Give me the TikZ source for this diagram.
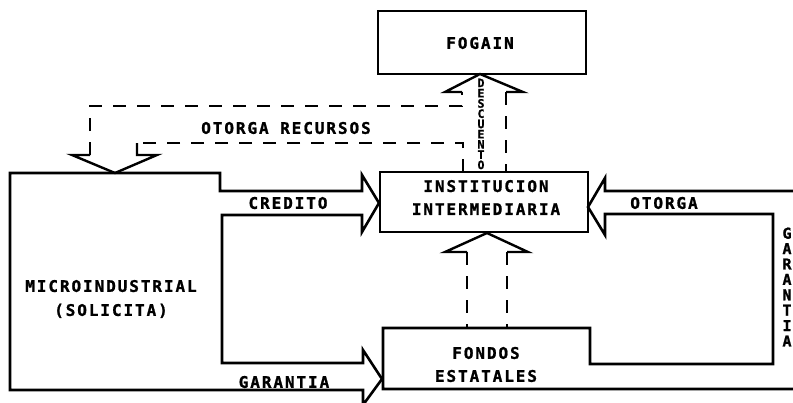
\documentclass[tikz,border=0pt]{standalone}
\usepackage{fontspec}
\newfontfamily\tw[LetterSpace=12,FakeBold=1.2]{DejaVu Sans Mono}
\newfontfamily\tv[FakeBold=1.2]{DejaVu Sans Mono}
\begin{document}
\begin{tikzpicture}[x=1pt,y=-1pt,
  outline/.style={draw=black,line width=2.6pt,line join=miter},
  dashline/.style={draw=black,line width=2.4pt,dash pattern=on 13pt off 11pt},
  headline/.style={draw=black,line width=2.4pt,line join=miter},
  boxst/.style={draw=black,line width=2.6pt,inner sep=0pt},
  lbl/.style={font={\tw\bfseries\fontsize{16}{16}\selectfont},inner sep=0pt},
  lbltwo/.style={font={\tw\bfseries\fontsize{16}{23}\selectfont},inner sep=0pt,align=center},
  vlbl/.style={font={\tv\bfseries\fontsize{15}{15.4}\selectfont},inner sep=0pt,align=center},
  dlbl/.style={font={\tv\bfseries\fontsize{11.5}{10.25}\selectfont},inner sep=0pt,align=center}]
\useasboundingbox (0,0) rectangle (793,402);
\fill[white] (0,0) rectangle (793,402);

% boxes
\node[boxst,minimum width=208pt,minimum height=63pt] (fogain) at (482,42.5) {};
\node[lbl] (fogaint) at (480,43) {FOGAIN};
\node[boxst,minimum width=208pt,minimum height=60pt] (inst) at (484,202) {};
\node[lbltwo] (instt) at (486,197.5) {INSTITUCION\\INTERMEDIARIA};

% microindustrial block with its two outgoing arrows
\draw[outline] (10,173) -- (220,173) -- (220,191) -- (362,191) -- (362,175) -- (379,203)
  -- (362,232) -- (362,215) -- (222,215) -- (222,363) -- (363,363) -- (363,350)
  -- (382,379) -- (363,405) -- (363,390) -- (10,390) -- cycle;

% right block, fondos estatales and otorga arrow
\draw[outline] (800,191) -- (605,191) -- (605,178) -- (588,207) -- (605,235) -- (605,214)
  -- (773,214) -- (773,364) -- (590,364) -- (590,328) -- (383,328) -- (383,389) -- (800,389);

% otorga recursos / descuento dashed arrow
\draw[dashline] (463,172) -- (463,143) -- (137,143);
\draw[dashline] (90,155) -- (90,106) -- (462,106) -- (462,92);
\draw[headline] (137,143) -- (137,155) -- (157,155) -- (115,173) -- (72,155) -- (90,155);
\draw[headline] (462,92) -- (445,92) -- (480,74) -- (523,92) -- (506,92);
\draw[dashline] (506,92) -- (506,172);

% fondos -> institucion dashed arrow
\draw[headline] (467,252) -- (445,252) -- (487,233) -- (528,252) -- (507,252);
\draw[dashline] (467,252) -- (467,328);
\draw[dashline] (507,252) -- (507,328);

% labels
\node[lbl] (otrec) at (286,128) {OTORGA RECURSOS};
\node[lbl] (cred) at (288,203) {CREDITO};
\node[lbl] (otor) at (664,203) {OTORGA};
\node[lbltwo,font={\tw\bfseries\fontsize{16}{24}\selectfont}] (micro) at (111,299) {MICROINDUSTRIAL\\(SOLICITA)};
\node[lbl] (gar) at (284,382) {GARANTIA};
\node[lbltwo] (fondos) at (486,364.5) {FONDOS\\ESTATALES};
\node[vlbl] (garv) at (787,287) {G\\A\\R\\A\\N\\T\\I\\A};
\node[dlbl] (desc) at (481,124) {D\\E\\S\\C\\U\\E\\N\\T\\O};
\end{tikzpicture}
\end{document}
